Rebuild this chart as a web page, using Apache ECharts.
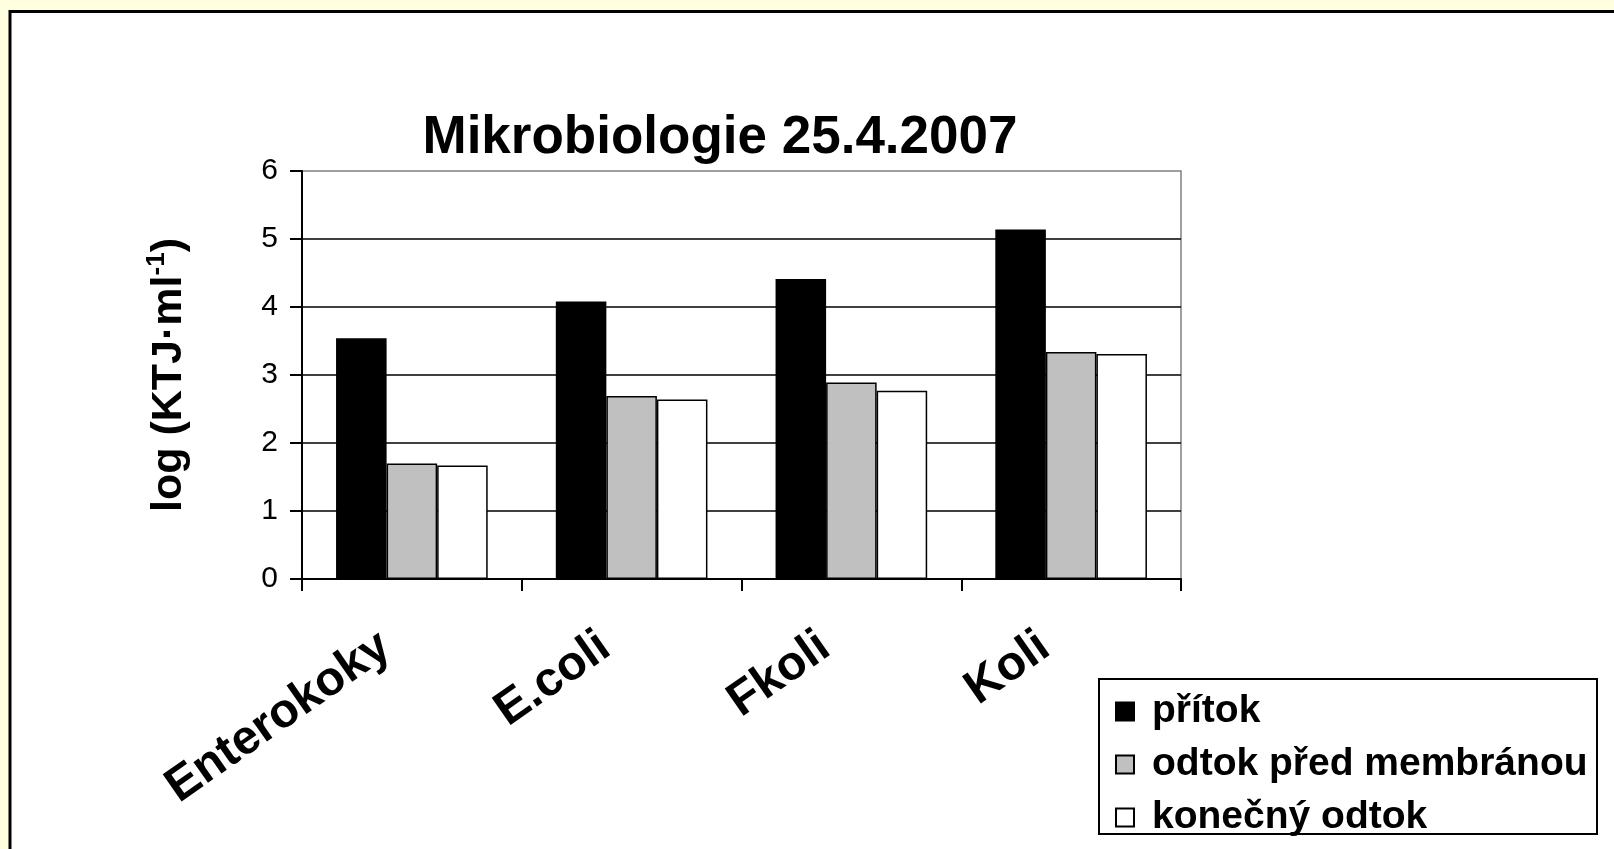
<!DOCTYPE html>
<html>
<head>
<meta charset="utf-8">
<script src="https://cdn.jsdelivr.net/npm/echarts@6/dist/echarts.min.js"></script>
<style>
html,body{margin:0;padding:0;background:#FFFFE0;}
#chart{width:1614px;height:849px;}
</style>
</head>
<body>
<div id="chart"></div>
<script>
const titleText = 'Mikrobiologie 25.4.2007';
const categories = ['Enterokoky', 'E.coli', 'Fkoli', 'Koli'];
const seriesNames = ['přítok', 'odtok před membránou', 'konečný odtok'];
const pritok = [3.54, 4.08, 4.41, 5.14];
const odtokPredMembranou = [1.70, 2.69, 2.89, 3.34];
const konecnyOdtok = [1.67, 2.64, 2.77, 3.31];
const yMin = 0, yMax = 6, yInterval = 1;
const seriesColors = ['#000000', '#C0C0C0', '#FFFFFF'];
const seriesValues = [pritok, odtokPredMembranou, konecnyOdtok];

const FONT = '"Liberation Sans", Arial, sans-serif';
const chart = echarts.init(document.getElementById('chart'), null, {renderer: 'canvas'});

const option = {
  backgroundColor: '#FFFFE0',
  animation: false,
  title: {
    text: titleText,
    left: 720,
    top: 112,
    textAlign: 'center',
    padding: 0,
    textStyle: {fontFamily: FONT, fontWeight: 'bold', fontSize: 53, color: '#000'}
  },
  graphic: [
    {type: 'rect', z: -100, shape: {x: 10, y: 11.5, width: 1700, height: 1000},
     style: {fill: '#FFFFFF', stroke: '#000000', lineWidth: 3}},
    {type: 'rect', z: 1, shape: {x: 1099, y: 679, width: 498, height: 155},
     style: {fill: '#FFFFFF', stroke: '#000000', lineWidth: 2}}
  ],
  legend: {
    orient: 'vertical',
    left: 1115,
    top: 692,
    padding: 0,
    itemWidth: 18,
    itemHeight: 18,
    itemGap: 14,
    icon: 'rect',
    data: seriesNames,
    textStyle: {fontFamily: FONT, fontWeight: 'bold', fontSize: 39, color: '#000', lineHeight: 37, padding: [0, 0, 0, 13]}
  },
  grid: {
    left: 302, top: 171, width: 879, height: 408,
    show: true, backgroundColor: '#FFFFFF', borderColor: '#808080', borderWidth: 1.5,
    containLabel: false
  },
  xAxis: {
    type: 'category',
    data: categories,
    axisLine: {lineStyle: {color: '#000', width: 2}},
    axisTick: {show: true, length: 12, lineStyle: {color: '#000', width: 2}},
    axisLabel: {
      rotate: 35, margin: 45, padding: [0, 32, 0, 0],
      fontFamily: FONT, fontWeight: 'bold', fontSize: 48, color: '#000', interval: 0
    }
  },
  yAxis: {
    type: 'value',
    min: yMin, max: yMax, interval: yInterval,
    name: '{a|log (KTJ·ml}{s|-1}{a|)}',
    nameLocation: 'middle',
    nameRotate: 90,
    nameGap: 108,
    nameTextStyle: {
      rich: {
        a: {fontFamily: FONT, fontWeight: 'bold', fontSize: 43, color: '#000', lineHeight: 50},
        s: {fontFamily: FONT, fontWeight: 'bold', fontSize: 26, color: '#000', lineHeight: 26, verticalAlign: 'top'}
      }
    },
    axisLine: {show: true, lineStyle: {color: '#000', width: 2}},
    axisTick: {show: true, length: 12, lineStyle: {color: '#000', width: 2}},
    axisLabel: {margin: 24, fontFamily: FONT, fontSize: 30, color: '#000'},
    splitLine: {show: true, showMaxLine: false, lineStyle: {color: '#000', width: 1.5}}
  },
  series: seriesNames.map((name, i) => ({
    name: name,
    type: 'bar',
    data: seriesValues[i],
    barGap: '0%',
    barCategoryGap: '31%',
    itemStyle: {color: seriesColors[i], borderColor: '#000', borderWidth: 1.5}
  }))
};
chart.setOption(option);
</script>
</body>
</html>
